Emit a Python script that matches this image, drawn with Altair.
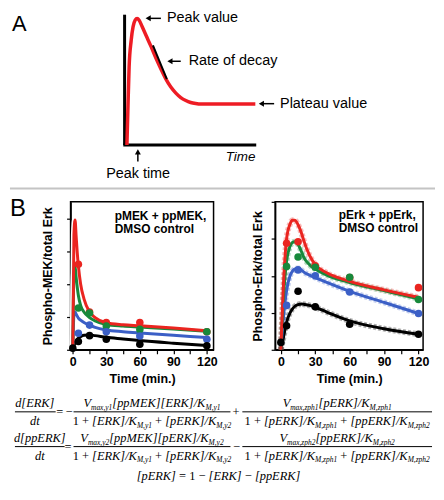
import altair as alt
import pandas as pd

SANS = "Liberation Sans, Arial, Helvetica, sans-serif"
SERIF = "Liberation Serif, Times New Roman, serif"
RED, GREEN, BLUE, BLACK = "#ea2520", "#17893b", "#3b5fc6", "#000000"
SERIES = ["red", "green", "blue", "black"]
COLORS = [RED, GREEN, BLUE, BLACK]

# ---------------- Panel A: schematic time course (arbitrary units) ----------------
A_T = [0.08, 0.15, 0.25, 0.41, 0.56, 0.72, 0.87, 1.03, 1.26, 1.57, 1.95, 2.34, 2.73,
       3.11, 3.49, 3.88, 4.26, 4.65, 5.03, 5.42, 5.81, 10.05]
A_V = [0.0, 2.53, 5.96, 8.01, 9.07, 9.57, 9.69, 9.57, 9.08, 8.39, 7.56, 6.64, 5.81,
       5.05, 4.44, 3.98, 3.64, 3.41, 3.26, 3.18, 3.14, 3.14]
A_LABELS = ["Peak value", "Rate of decay", "Plateau value"]
A_LABEL_U = [3.19, 4.88, 11.97]
A_LABEL_V = [9.71, 6.42, 3.17]
A_ARROW_TAIL = [2.72, 4.26, 11.51]
A_ARROW_HEAD = [1.73, 3.42, 10.52]

# ---------------- Panel B: left (pMEK + ppMEK) ----------------
L_FIT_T = [0, 1, 2, 3, 4, 5, 7, 10, 15, 20, 30, 45, 60, 90, 120]
L_FIT_RED = [0, 3.5, 3.95, 3.45, 2.95, 2.55, 2.0, 1.55, 1.15, 0.98, 0.82, 0.76, 0.73, 0.66, 0.58]
L_FIT_GREEN = [0, 2.3, 2.55, 2.2, 1.9, 1.65, 1.35, 1.15, 0.98, 0.88, 0.77, 0.72, 0.69, 0.63, 0.56]
L_FIT_BLUE = [0, 1.05, 1.15, 1.08, 1.02, 0.96, 0.9, 0.83, 0.75, 0.68, 0.6, 0.55, 0.51, 0.44, 0.37]
L_FIT_BLACK = [0, 0.12, 0.2, 0.27, 0.32, 0.35, 0.4, 0.44, 0.45, 0.43, 0.38, 0.33, 0.28, 0.2, 0.13]
L_PT_T = [5, 15, 30, 60, 120]
L_PT_RED = [2.6, 1.15, 0.83, 0.83, 0.55]
L_PT_GREEN = [1.27, 1.12, 0.72, 0.62, 0.55]
L_PT_BLUE = [0.5, 0.75, 0.55, 0.42, 0.32]
L_PT_BLACK_T = [0, 5, 15, 30, 60, 120]
L_PT_BLACK = [0.05, 0.25, 0.43, 0.32, 0.17, 0.12]

# ---------------- Panel B: right (pErk + ppErk) ----------------
R_FIT_T = [0, 2, 5, 8, 10, 12, 15, 18, 20, 25, 30, 40, 60, 90, 120]
R_FIT_RED = [0, 1.6, 3.0, 3.4, 3.5, 3.5, 3.38, 3.15, 2.95, 2.55, 2.3, 2.08, 1.85, 1.62, 1.42]
R_FIT_GREEN = [0, 1.3, 2.4, 2.8, 2.9, 2.92, 2.85, 2.65, 2.5, 2.3, 2.18, 2.02, 1.82, 1.6, 1.38]
R_FIT_BLUE = [0, 0.8, 1.6, 2.0, 2.12, 2.18, 2.2, 2.15, 2.1, 2.02, 1.95, 1.82, 1.58, 1.28, 0.98]
R_FIT_BLACK = [0, 0.3, 0.75, 1.0, 1.1, 1.17, 1.22, 1.24, 1.23, 1.2, 1.15, 1.02, 0.78, 0.57, 0.42]
R_PT_RED_T = [5, 15, 30, 60, 120]
R_PT_RED = [2.88, 2.92, 2.27, 1.95, 1.68]
R_PT_T = [5, 15, 30, 60, 120]
R_PT_GREEN = [2.25, 2.51, 2.23, 1.96, 1.36]
R_PT_BLUE = [1.2, 2.16, 2.0, 1.56, 0.98]
R_PT_BLACK_T = [0, 5, 15, 30, 60, 120]
R_PT_BLACK = [0.2, 0.65, 1.58, 1.16, 0.69, 0.42]

X_TICKS = [0, 15, 30, 45, 60, 75, 90, 105, 120]
Y_TICKS = [0, 1, 2, 3, 4]
L_NOTE = ["pMEK + ppMEK,", "DMSO control"]
R_NOTE = ["pErk + ppErk,", "DMSO control"]

# ======================= Panel A chart =======================
A_W, A_H = 367, 180
XA_DOM = [-4.295, 24.0]
YA_DOM = [-3.4, 10.3]
xa = alt.Scale(domain=XA_DOM, nice=False, zero=False)
ya = alt.Scale(domain=YA_DOM, nice=False, zero=False)
PX_U = A_W / (XA_DOM[1] - XA_DOM[0])
PX_V = A_H / (YA_DOM[1] - YA_DOM[0])


def XA(f):
    return alt.X(f, type="quantitative", scale=xa, axis=None)


def YA(f):
    return alt.Y(f, type="quantitative", scale=ya, axis=None)


def rules(df, **kw):
    return alt.Chart(df).mark_rule(**kw).encode(x=XA("x"), x2="x2:Q", y=YA("y"), y2="y2:Q")


sep = rules(pd.DataFrame({"x": [-9], "x2": [24], "y": [-3.33], "y2": [-3.33]}),
            color="#c4c4c4", strokeWidth=2)
axes_a = rules(pd.DataFrame({"x": [-0.1, -0.2], "x2": [-0.1, 10.12],
                             "y": [0.0, 0.0], "y2": [9.99, 0.0]}), color="black", strokeWidth=3)
curve_a = alt.Chart(pd.DataFrame({"u": A_T, "v": A_V})).mark_line(
    color="#ee1c24", strokeWidth=3.5, interpolate="monotone").encode(x=XA("u"), y=YA("v"))
tangent = rules(pd.DataFrame({"x": [2.10], "x2": [3.18], "y": [7.63], "y2": [5.05]}),
                color="black", strokeWidth=2)
shafts = rules(pd.DataFrame({"x": A_ARROW_TAIL + [0.93], "x2": A_ARROW_HEAD + [0.93],
                             "y": A_LABEL_V + [-1.27], "y2": A_LABEL_V + [-0.52]}),
               color="black", strokeWidth=1.5)
heads_l = alt.Chart(pd.DataFrame({"x": A_ARROW_HEAD, "y": A_LABEL_V})).mark_point(
    shape="triangle-left", filled=True, size=36, color="black", opacity=1).encode(x=XA("x"), y=YA("y"))
heads_u = alt.Chart(pd.DataFrame({"x": [0.93], "y": [-0.52]})).mark_point(
    shape="triangle-up", filled=True, size=36, color="black", opacity=1).encode(x=XA("x"), y=YA("y"))
labels_a = alt.Chart(pd.DataFrame({"x": A_LABEL_U, "y": A_LABEL_V, "t": A_LABELS})).mark_text(
    align="left", baseline="middle", font=SANS, fontSize=14.5, color="black").encode(
    x=XA("x"), y=YA("y"), text="t:N")
peak_time = alt.Chart(pd.DataFrame({"x": [0.95], "y": [-2.26], "t": ["Peak time"]})).mark_text(
    align="center", baseline="middle", font=SANS, fontSize=14.5, color="black").encode(
    x=XA("x"), y=YA("y"), text="t:N")
time_lbl = alt.Chart(pd.DataFrame({"x": [10.05], "y": [-0.89], "t": ["Time"]})).mark_text(
    align="right", baseline="middle", font=SANS, fontSize=13.5, fontStyle="italic", color="black").encode(
    x=XA("x"), y=YA("y"), text="t:N")
a_letter = alt.Chart(pd.DataFrame({"x": [-8.84], "y": [8.75], "t": ["A"]})).mark_text(
    align="left", baseline="alphabetic", font=SANS, fontSize=22, color="black").encode(
    x=XA("x"), y=YA("y"), text="t:N")

# ======================= Equations (laid out below, in the same frame) =======================
MAIN, SUB, DROP = 12.5, 7.5, 3.0
TI = {' ': 250, '[': 389, ']': 389, '/': 278, ',': 250, '1': 500, '2': 500,
      'E': 611, 'K': 667, 'M': 833, 'R': 611, 'V': 611,
      'a': 500, 'd': 500, 'e': 444, 'h': 500, 'm': 722, 'p': 500, 't': 278, 'x': 444,
      'y': 444, 'z': 389}
TR = {' ': 250, '1': 500, '+': 564, '=': 564, '\u2212': 564}
ORIG_X, ORIG_Y = 69.0, 8.0


def pu(px):
    return XA_DOM[0] + (px - ORIG_X) / PX_U


def pv(py):
    return YA_DOM[1] - (py - ORIG_Y) / PX_V


def seg_w(text, kind):
    table = TR if kind == 'r' else TI
    size = SUB if kind == 's' else MAIN
    return sum(table.get(c, 500) for c in text) * size / 1000.0


eq_rows = []


def place(segs, cx, base):
    total = sum(seg_w(t, k) for t, k in segs)
    x = cx - total / 2.0
    for t, k in segs:
        if k != 'g':
            eq_rows.append({"x": pu(x), "y": pv(base + (DROP if k == 's' else 0)), "t": t,
                            "size": SUB if k == 's' else MAIN,
                            "style": "roman" if k == 'r' else "italic"})
        x += seg_w(t, k)


G = (" ", "g")
DEN_Y = [("1", "r"), G, ("+", "r"), G, ("[ERK]/K", "i"), ("M,y1", "s"), G, ("+", "r"), G,
         ("[pERK]/K", "i"), ("M,y2", "s")]
DEN_Z = [("1", "r"), G, ("+", "r"), G, ("[pERK]/K", "i"), ("M,zph1", "s"), G, ("+", "r"), G,
         ("[ppERK]/K", "i"), ("M,zph2", "s")]

# line 1
place([("d[ERK]", "i")], 33, 407)
place([("dt", "i")], 33, 425)
place([("=", "r")], 58, 416)
place([("\u2212", "r")], 67.5, 416)
place([("V", "i"), ("max,y1", "s"), ("[ppMEK][ERK]/K", "i"), ("M,y1", "s")], 151, 407)
place(DEN_Y, 151, 425)
place([("+", "r")], 235.5, 416)
place([("V", "i"), ("max,zph1", "s"), ("[pERK]/K", "i"), ("M,zph1", "s")], 337.5, 407)
place(DEN_Z, 337.5, 425)
# line 2
place([("d[ppERK]", "i")], 38, 442)
place([("dt", "i")], 38, 460)
place([("=", "r")], 66.5, 451)
place([("V", "i"), ("max,y2", "s"), ("[ppMEK][pERK]/K", "i"), ("M,y2", "s")], 151, 442)
place(DEN_Y, 151, 460)
place([("\u2212", "r")], 236, 451)
place([("V", "i"), ("max,zph2", "s"), ("[ppERK]/K", "i"), ("M,zph2", "s")], 337.5, 442)
place(DEN_Z, 337.5, 460)
# line 3
place([("[pERK]", "i"), G, ("=", "r"), G, ("1", "r"), G, ("\u2212", "r"), G, ("[ERK]", "i"), G,
       ("\u2212", "r"), G, ("[ppERK]", "i")], 218, 481)

BAR_X1 = [13, 72, 242, 13, 72, 242]
BAR_X2 = [54, 230, 433, 63, 230, 433]
BAR_Y = [412, 412, 412, 447, 447, 447]

eq_df = pd.DataFrame(eq_rows)
eq_it = alt.Chart(eq_df).transform_filter("datum.style == 'italic'").mark_text(
    align="left", baseline="alphabetic", font=SERIF, fontStyle="italic", color="black").encode(
    x=XA("x"), y=YA("y"), text="t:N", size=alt.Size("size:Q", scale=None))
eq_rm = alt.Chart(eq_df).transform_filter("datum.style == 'roman'").mark_text(
    align="left", baseline="alphabetic", font=SERIF, color="black").encode(
    x=XA("x"), y=YA("y"), text="t:N", size=alt.Size("size:Q", scale=None))
bar_df = pd.DataFrame({"x": [pu(v) for v in BAR_X1], "x2": [pu(v) for v in BAR_X2],
                       "y": [pv(v) for v in BAR_Y], "y2": [pv(v) for v in BAR_Y]})
bars = rules(bar_df, color="black", strokeWidth=1)

panel_a = alt.layer(sep, axes_a, curve_a, tangent, shafts, heads_l, heads_u, labels_a,
                    peak_time, time_lbl, a_letter, bars, eq_it, eq_rm).properties(
    width=A_W, height=A_H)

# ======================= Panel B charts =======================
color_scale = alt.Scale(domain=SERIES, range=COLORS)


def long_df(ts, vals_list):
    rows = []
    for k, (tt, vals) in enumerate(zip(ts, vals_list)):
        for a, b in zip(tt, vals):
            rows.append({"t": a, "v": b, "s": SERIES[k], "k": k})
    return pd.DataFrame(rows)


def axis_x():
    return alt.Axis(values=X_TICKS, labelExpr="datum.value % 30 == 0 ? datum.label : ''",
                    title="Time (min.)", tickSize=4, labelPadding=2, titlePadding=4,
                    labelFont=SANS, labelFontSize=12.5, labelFontWeight="bold", labelColor="black",
                    titleFont=SANS, titleFontSize=12.5, titleFontWeight="bold", titleColor="black",
                    domainColor="black", domainWidth=1.5, tickColor="black", tickWidth=1.2,
                    grid=False, labelFlush=False)


def axis_y(title, pad):
    return alt.Axis(values=Y_TICKS, labels=False, title=title, tickSize=4, titlePadding=pad,
                    titleFont=SANS, titleFontSize=12.5, titleFontWeight="bold", titleColor="black",
                    domainColor="black", domainWidth=1.5, tickColor="black", tickWidth=1.2,
                    grid=False)


def b_panel(fit_t, fits, pts_t, pts_v, xs, ys, ytitle, ypad, notes, note_x, note_y,
            width, dashed, letter=None):
    fit_df = long_df([fit_t] * 4, fits).sort_values(["k", "t"], ascending=[False, True])
    pt_df = long_df(pts_t, pts_v)
    X = alt.X("t:Q", scale=xs, axis=axis_x())
    Y = alt.Y("v:Q", scale=ys, axis=axis_y(ytitle, ypad))
    col = alt.Color("s:N", scale=color_scale, legend=None)
    if dashed:
        under = alt.Chart(fit_df).mark_line(strokeWidth=6, strokeDash=[3, 2], opacity=0.3,
                                            interpolate="monotone").encode(
            x=X, y=Y, color=col, detail="s:N", order="t:Q")
    else:
        under = alt.Chart(fit_df).mark_line(strokeWidth=6, color="white",
                                            interpolate="monotone").encode(
            x=X, y=Y, detail="s:N", order="t:Q")
    lines = alt.Chart(fit_df).mark_line(strokeWidth=3, interpolate="monotone").encode(
        x=X, y=Y, color=col, detail="s:N", order="t:Q")
    dots = alt.Chart(pt_df).mark_circle(size=58, opacity=1).encode(x=X, y=Y, color=col)
    ndf = pd.DataFrame({"t": [note_x, note_x], "v": note_y, "txt": notes})
    note = alt.Chart(ndf).mark_text(align="left", baseline="alphabetic", font=SANS, fontSize=12,
                                    fontWeight="bold", color="black").encode(x=X, y=Y, text="txt:N")
    layers = [under, lines, dots, note]
    if letter is not None:
        ldf = pd.DataFrame({"t": [letter[0]], "v": [letter[1]], "txt": ["B"]})
        layers.append(alt.Chart(ldf).mark_text(align="left", baseline="top", font=SANS,
                                               fontSize=24, color="black").encode(
            x=X, y=Y, text="txt:N"))
    return alt.layer(*layers).properties(
        width=width, height=149, view=alt.ViewBackground(stroke="black", strokeWidth=1.5))


xl = alt.Scale(domain=[-2, 126], nice=False, zero=False)
yl = alt.Scale(domain=[0, 4.5], nice=False, zero=False)
xr = alt.Scale(domain=[-5, 124], nice=False, zero=False)
yr = alt.Scale(domain=[0, 4], nice=False, zero=False)

left = b_panel(L_FIT_T, [L_FIT_RED, L_FIT_GREEN, L_FIT_BLUE, L_FIT_BLACK],
               [L_PT_T, L_PT_T, L_PT_T, L_PT_BLACK_T],
               [L_PT_RED, L_PT_GREEN, L_PT_BLUE, L_PT_BLACK],
               xl, yl, "Phospho-MEK/total Erk", 11.5, L_NOTE, 37.5, [3.96, 3.55], 144, False,
               letter=(-56.2, 4.646))
right = b_panel(R_FIT_T, [R_FIT_RED, R_FIT_GREEN, R_FIT_BLUE, R_FIT_BLACK],
                [R_PT_RED_T, R_PT_T, R_PT_T, R_PT_BLACK_T],
                [R_PT_RED, R_PT_GREEN, R_PT_BLUE, R_PT_BLACK],
                xr, yr, "Phospho-Erk/total Erk", 6, R_NOTE, 50.4, [3.54, 3.19], 149, True)

row_b = alt.hconcat(left, right, spacing=62, bounds="flush")

chart = alt.vconcat(panel_a, row_b, spacing=12.5, bounds="flush").properties(
    padding=0).configure_view(stroke=None)

chart.save("out.html", embed_options={"renderer": "svg", "actions": False})
